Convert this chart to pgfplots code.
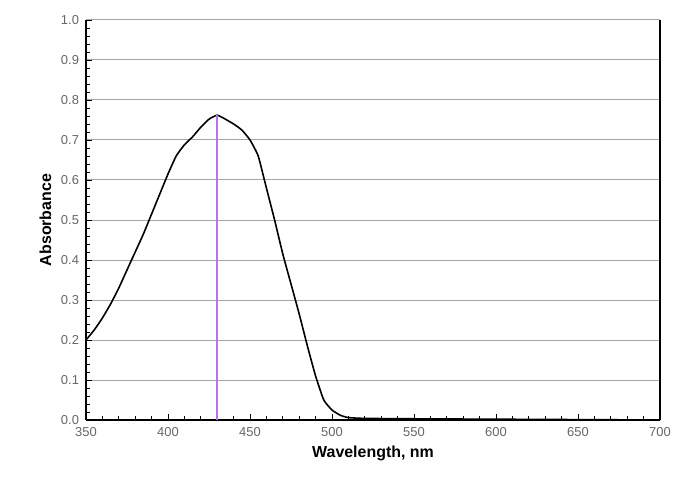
\documentclass[border=0pt]{standalone}
\usepackage{pgfplots}
\pgfplotsset{compat=1.18}
\usepackage{fontspec}
\setmainfont{Liberation Sans}
\definecolor{peakline}{RGB}{190,110,240}

\begin{document}
\begin{tikzpicture}
\begin{axis}[
    at={(0,0)}, anchor=south west,
    width=287bp, height=200bp,
    scale only axis,
    xmin=350, xmax=700,
    ymin=0, ymax=1.0,
    xtick={350,400,...,700},
    ytick={0,0.1,...,1.0},
    minor x tick num=4,
    minor y tick num=4,
    axis x line*=bottom,
    axis y line*=left,
    axis line style={black, line width=0.6pt, -},
    ymajorgrids=true,
    grid style={gray!70, line width=0.5pt},
    major tick length=3bp,
    minor tick length=1.8bp,
    tick style={black, line width=0.4pt},
    x tick label style={font=\fontsize{6.5}{7}\selectfont, text=gray!80!black},
    y tick label style={font=\fontsize{6.5}{7}\selectfont, text=gray!80!black},
    yticklabel style={/pgf/number format/fixed, /pgf/number format/fixed zerofill, /pgf/number format/precision=1},
    /pgf/number format/assume math mode=true,
    xlabel={\textbf{Wavelength, nm}},
    ylabel={\textbf{Absorbance}},
    xlabel style={font=\fontsize{8}{9}\selectfont, yshift=2bp},
    ylabel style={font=\fontsize{8}{9}\selectfont, yshift=-2bp},
    clip=false,
]

% absorbance spectrum
\addplot[black, line width=0.8pt, smooth, tension=0.3] coordinates {
 (350,0.200) (355,0.225) (360,0.255) (365,0.290) (370,0.330) (375,0.375)
 (380,0.420) (385,0.465) (390,0.515) (395,0.565) (400,0.615) (405,0.660)
 (410,0.688) (415,0.708) (420,0.732) (425,0.752) (430,0.762) (435,0.752)
 (440,0.740) (445,0.725) (450,0.700) (455,0.660) (460,0.580) (465,0.500)
 (470,0.415) (475,0.340) (480,0.265) (485,0.185) (490,0.110) (495,0.050)
 (500,0.025) (505,0.012) (510,0.006) (520,0.004) (550,0.003) (600,0.002)
 (650,0.001) (700,0.000)
};

% peak marker
\addplot[peakline, line width=1.3pt] coordinates {(430,0.0) (430,0.762)};

% right frame
\draw[black, line width=0.6pt] (rel axis cs:1,0) -- (rel axis cs:1,1);
\end{axis}
\pgfresetboundingbox
\path (-43bp,-40bp) rectangle (295.5bp,210bp);
\end{tikzpicture}
\end{document}
